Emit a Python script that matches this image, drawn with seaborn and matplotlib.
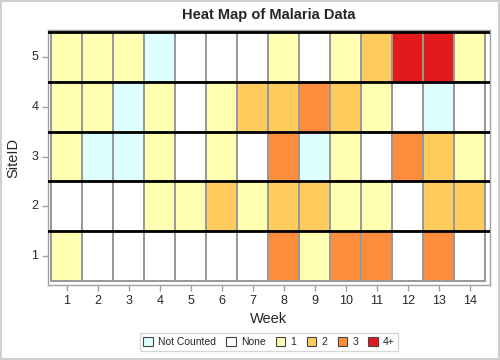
import numpy as np
import pandas as pd
import matplotlib
matplotlib.use("Agg")
import matplotlib.pyplot as plt
from matplotlib.colors import ListedColormap
from matplotlib.patches import Patch
import seaborn as sns

weeks = list(range(1, 15))
sites = [5, 4, 3, 2, 1]
categories = ["Not Counted", "None", "1", "2", "3", "4+"]
cat_colors = ["#DDFFFF", "#FFFFFF", "#FFFFB2", "#FECC5C", "#FD8D3C", "#E31A1C"]

site5 = ["1", "1", "1", "Not Counted", "None", "None", "None", "1", "None", "1", "2", "4+", "4+", "1"]
site4 = ["1", "1", "Not Counted", "1", "None", "1", "2", "2", "3", "2", "1", "None", "Not Counted", "None"]
site3 = ["1", "Not Counted", "Not Counted", "1", "None", "1", "None", "3", "Not Counted", "1", "None", "3", "2", "1"]
site2 = ["None", "None", "None", "1", "1", "2", "1", "2", "2", "1", "1", "None", "2", "2"]
site1 = ["1", "None", "None", "None", "None", "None", "None", "3", "1", "3", "3", "None", "3", "None"]

rows = [site5, site4, site3, site2, site1]
codes = np.array([[categories.index(v) for v in r] for r in rows])
df = pd.DataFrame(codes, index=sites, columns=weeks)

sns.set_style("white")
plt.rcParams["font.family"] = ["Liberation Sans", "DejaVu Sans"]

fig = plt.figure(figsize=(5, 3.6), dpi=100)
fig.patch.set_edgecolor("#cfcfcf")
fig.patch.set_linewidth(1.5)
ax = fig.add_axes([0.096, 0.2083, 0.884, 0.7084])

sns.heatmap(df, ax=ax, cmap=ListedColormap(cat_colors), vmin=-0.5, vmax=5.5,
            cbar=False, linewidths=1.2, linecolor="#999999")

ax.set_xlim(-0.11, 14.15)
ax.set_ylim(5.08, -0.04)
for y in range(5):
    ax.axhline(y, color="black", lw=2.0, zorder=5)

for s in ax.spines.values():
    s.set_visible(True)
    s.set_color("#a0a0a0")
    s.set_linewidth(1)

ax.tick_params(axis="both", bottom=True, left=True, length=4, width=1,
               color="#a0a0a0", labelsize=9, pad=3)
ax.set_xticklabels([str(w) for w in weeks], rotation=0)
ax.set_yticklabels([str(s) for s in sites], rotation=0)
ax.set_xlabel("Week", fontsize=10.5, labelpad=4)
ax.set_ylabel("SiteID", fontsize=10.5, labelpad=8)
ax.set_title("Heat Map of Malaria Data", fontsize=10.5, fontweight="bold", pad=8)

handles = [Patch(facecolor=c, edgecolor="#444444", linewidth=0.8, label=l)
           for c, l in zip(cat_colors, categories)]
leg = fig.legend(handles=handles, loc="center", bbox_to_anchor=(0.538, 0.05), ncol=6,
                 fontsize=7.5, frameon=True, fancybox=False, handlelength=0.9,
                 handleheight=0.9, handletextpad=0.5, columnspacing=1.0,
                 borderpad=0.35, edgecolor="#cccccc")
leg.get_frame().set_linewidth(1)

fig.savefig("out.png", dpi=100)
